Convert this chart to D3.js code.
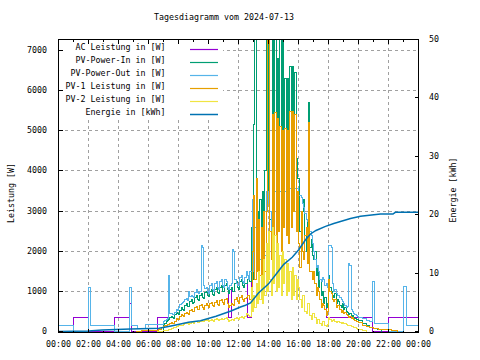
<!DOCTYPE html>
<html><head><meta charset="utf-8">
<script src="https://cdn.jsdelivr.net/npm/d3@7"></script>
<style>
body{margin:0;background:#fff}
svg{display:block}
text{font-family:"DejaVu Sans Mono",monospace;font-size:8.3px;fill:#000}
</style>
</head><body>
<svg id="c" width="480" height="360"></svg>
<script>
// ---------- texts / ticks ----------
const chartTitle = "Tagesdiagramm vom 2024-07-13";
const yLabel = "Leistung [W]";
const y2Label = "Energie [kWh]";
const xTickMinutes = [0,120,240,360,480,600,720,840,960,1080,1200,1320,1440];
const xTickLabels = ["00:00","02:00","04:00","06:00","08:00","10:00","12:00","14:00","16:00","18:00","20:00","22:00","00:00"];
const yTicks = [0,1000,2000,3000,4000,5000,6000,7000];
const y2Ticks = [0,10,20,30,40,50];
const seriesNames = ["AC Leistung in [W]","PV-Power-In in [W]","PV-Power-Out in [W]","PV-1 Leistung in [W]","PV-2 Leistung in [W]","Energie in [kWh]"];
const seriesColors = ["#9400d3","#009e73","#56b4e9","#e69f00","#f0e442","#0072b2"];

// ---------- daytime sample times, minutes after midnight (07:00 .. 20:00, 5 min) ----------
const dayMinutes = [
  420,425,430,435,440,445,450,455,460,465,470,475,
  480,485,490,495,500,505,510,515,520,525,530,535,
  540,545,550,555,560,565,570,575,580,585,590,595,
  600,605,610,615,620,625,630,635,640,645,650,655,
  660,665,670,675,680,685,690,695,700,705,710,715,
  720,725,730,735,740,745,750,755,760,765,770,775,
  780,785,790,795,800,805,810,815,820,825,830,835,
  840,845,850,855,860,865,870,875,880,885,890,895,
  900,905,910,915,920,925,930,935,940,945,950,955,
  960,965,970,975,980,985,990,995,1000,1005,1010,1015,
  1020,1025,1030,1035,1040,1045,1050,1055,1060,1065,1070,1075,
  1080,1085,1090,1095,1100,1105,1110,1115,1120,1125,1130,1135,
  1140,1145,1150,1155,1160,1165,1170,1175,1180,1185,1190,1195,
  1200];

// ---------- PV-Power-In [W] (green) ----------
const pvInPreMin = [410];
const pvInPreW = [0];
const pvInDayW = [
  150,200,250,280,300,340,380,350,330,420,480,450,
  420,520,600,540,520,640,700,620,620,740,800,700,
  720,850,900,800,780,900,950,850,830,960,1000,900,
  880,1000,1050,920,900,1050,1100,980,950,1100,1150,1000,
  1000,1150,1200,1050,950,1050,1100,1000,1000,1200,1250,1100,
  1050,1250,1300,1150,1100,1200,1200,1300,1400,1250,2600,1300,
  5150,7300,2200,3000,1800,3300,2000,3500,2400,4000,7300,3500,
  7300,2800,2500,7300,3500,7300,4000,6800,3000,7300,3800,7300,
  3200,6300,3500,6300,3000,6600,3600,6600,3300,6450,4300,3800,
  3800,2500,2200,3000,3300,2400,2000,2800,5700,2100,2300,1900,
  1800,2000,1400,1600,1100,1300,900,1000,700,850,600,700,
  1400,1100,1000,900,850,950,700,800,750,650,600,700,
  550,600,500,480,420,450,380,400,350,330,300,290,
  280];
const pvInPostMin = [1215,1230,1245,1260,1275,1290];
const pvInPostW = [200,160,110,80,60,0];

// ---------- PV-Power-Out [W] (light blue) ----------
const pvOutPreMin = [0,60,120,127,224,285,292,315,348];
const pvOutPreW = [150,0,1100,150,0,1100,150,80,180];
const pvOutDayW = [
  250,280,300,320,1400,450,450,430,420,480,550,520,
  600,680,700,720,750,800,820,780,1000,880,900,860,
  850,980,1050,960,950,1000,2150,2100,1150,1080,1100,1000,
  950,1150,1200,1050,1000,1200,1250,1100,1050,1250,1300,1150,
  1100,1300,1250,1100,1050,1150,1200,2050,2000,1300,1200,1150,
  1150,1350,1400,1250,1200,1350,1500,1400,1300,1500,1500,3300,
  1500,2600,3000,1600,2200,1800,2600,1400,2500,1900,3500,3200,
  3500,3000,2300,3500,3400,3500,3500,3500,3500,3500,3500,3500,
  3500,3500,3500,3500,3550,3560,3570,3570,3570,3570,3570,3570,
  3400,3380,3350,3200,3100,2950,2800,2750,2700,2500,2400,2200,
  2000,1800,1600,1650,1500,1300,1250,1350,1300,1150,1200,1100,
  2150,2150,2100,1200,1000,1050,950,900,900,850,800,750,
  700,650,600,620,1700,1650,550,500,450,420,400,370,
  350];
const pvOutPostMin = [1215,1230,1245,1255,1264,1280,1300,1321,1381,1392,1440];
const pvOutPostW = [320,280,250,1240,210,200,190,0,1130,150,150];

// ---------- PV-1 Leistung [W] (orange) ----------
const pv1PreMin = [307,330,360,390,400,410];
const pv1PreW = [10,20,15,30,60,90];
const pv1DayW = [
  120,140,150,170,180,200,220,210,200,260,330,310,
  300,380,420,400,380,450,480,440,430,520,560,500,
  500,600,620,560,540,640,680,600,560,660,700,640,
  600,700,720,640,620,720,760,680,650,760,800,720,
  680,800,820,700,600,650,700,680,650,800,850,750,
  700,850,900,800,750,820,850,900,900,800,1100,2000,
  3400,1300,3800,1500,2800,1400,2600,1200,3000,1500,3000,7300,
  7300,2500,1800,5400,2000,5450,2200,5300,2500,5100,2000,5000,
  2600,5050,2400,5000,2200,5470,2600,5470,3000,5400,2500,3500,
  2200,1600,3000,2000,1800,2400,2600,1700,5200,1500,1500,1300,
  1500,1200,900,1100,1000,800,600,700,650,550,400,500,
  1300,1000,950,800,750,800,600,650,650,550,480,520,
  450,480,420,400,350,380,320,340,300,280,250,240,
  220];
const pv1PostMin = [1215,1230,1245,1260,1280,1300,1330,1356];
const pv1PostW = [160,120,90,70,55,45,35,0];

// ---------- PV-2 Leistung [W] (yellow) ----------
const pv2PreMin = [390,400,410];
const pv2PreW = [0,5,10];
const pv2DayW = [
  20,25,30,35,40,60,80,85,90,110,120,130,
  140,150,150,160,170,190,200,190,180,210,230,220,
  210,240,260,230,220,250,270,250,240,280,300,270,
  250,280,300,270,260,300,320,290,280,310,330,300,
  290,320,340,300,250,280,300,290,270,330,350,320,
  300,360,380,340,320,380,450,420,400,380,1100,500,
  900,600,1200,700,1500,800,1400,700,1800,900,2200,1000,
  2500,1300,900,2600,1200,2400,1000,2200,1100,1900,900,2000,
  1200,1800,900,1700,1000,1500,800,1600,900,1400,800,1300,
  1100,800,600,900,900,500,450,700,700,400,300,450,
  450,350,200,300,300,200,150,250,250,150,130,180,
  350,300,250,280,300,260,220,250,260,230,200,220,
  200,190,180,160,150,140,130,120,110,90,70,60,
  50];
const pv2PostMin = [1215,1230];
const pv2PostW = [20,0];

// ---------- AC Leistung [W] (purple) ----------
const acNightMin = [0,60,120,224,284,290,394];
const acNightW = [0,350,0,350,700,0,350];
// 07:20 .. 17:45 on the day grid
const acDayW = [
  300,340,380,350,330,420,480,450,
  420,520,600,540,520,640,700,620,620,740,800,700,
  720,850,900,800,780,900,950,850,830,960,1000,900,
  880,1000,1050,920,900,1050,1100,980,950,1100,1150,1000,
  1000,1150,1200,1050,350,350,1100,1000,1000,1200,1250,1100,
  1050,1250,1300,1150,1100,1200,1200,350,350,350,2600,1300,
  5150,7300,2200,3000,1800,3300,2000,3500,2400,4000,7300,3500,
  7300,2800,2500,7300,3500,7300,4000,6800,3000,7300,3800,7300,
  3200,6300,3500,6300,3000,6600,3600,6600,3300,6450,4300,3800,
  3800,2500,2200,3000,3300,2400,2000,2800,5700,2100,2300,1900,
  1800,2000,1400,1600,1100,1300,900,1000,700,850];
const acEveMin = [1070,1255,1321,1440];
const acEveW = [350,0,350,350];

// ---------- Energie [kWh] ----------
const energyMin = [0,120,174,288,402,450,488,520,568,630,690,728,748,768,800,835,841,881,901,935,961,988,1008,1030,1068,1101,1168,1208,1288,1338,1347,1440];
const energyKWh = [0,0.1,0.25,0.43,0.55,0.95,1.28,1.57,1.85,2.6,3.5,4.2,4.5,4.9,6.6,7.95,8.2,10.4,11.5,12.7,14.0,15.7,16.7,17.3,18.0,18.5,19.35,19.74,20.1,20.1,20.4,20.4];

// ---------- build series ----------
function zip(mins, vals){ return mins.map((m,i)=>({m:m, v:vals[i]})); }
const acStart = dayMinutes.indexOf(440);
const acMin = acNightMin.concat(dayMinutes.slice(acStart, acStart + acDayW.length), acEveMin);
const acW = acNightW.concat(acDayW, acEveW);
const series = [
  zip(acMin, acW),
  zip(pvInPreMin.concat(dayMinutes, pvInPostMin), pvInPreW.concat(pvInDayW, pvInPostW)),
  zip(pvOutPreMin.concat(dayMinutes, pvOutPostMin), pvOutPreW.concat(pvOutDayW, pvOutPostW)),
  zip(pv1PreMin.concat(dayMinutes, pv1PostMin), pv1PreW.concat(pv1DayW, pv1PostW)),
  zip(pv2PreMin.concat(dayMinutes, pv2PostMin), pv2PreW.concat(pv2DayW, pv2PostW))
];
const energy = zip(energyMin, energyKWh);

// ---------- layout ----------
const svg = d3.select("#c");
const L = 58.5, R = 418.5, T = 39.5, B = 331.5, BB = 332.5;
const x = d3.scaleLinear().domain([0,1440]).range([L,R]);
const y = d3.scaleLinear().domain([0,7276]).range([B,T]);
const y2 = d3.scaleLinear().domain([0,50]).range([B,T]);
const crisp = v => Math.floor(v) + 0.5;

// title
svg.append("text").attr("x",224).attr("y",19.5).attr("text-anchor","middle").text(chartTitle);

// grid
const grid = svg.append("g").attr("stroke","#a0a0a0").attr("stroke-width",1).attr("stroke-dasharray","3,3").attr("shape-rendering","crispEdges");
xTickMinutes.slice(1,-1).forEach(m=>{
  grid.append("line").attr("x1",crisp(x(m))).attr("x2",crisp(x(m))).attr("y1",BB).attr("y2",T);
});
yTicks.slice(1).forEach(v=>{
  grid.append("line").attr("x1",L).attr("x2",R).attr("y1",crisp(y(v))).attr("y2",crisp(y(v)));
});

// opaque legend background
svg.append("rect").attr("x",59).attr("y",40).attr("width",164).attr("height",78).attr("fill","#fff");

// data
svg.append("clipPath").attr("id","pc").append("rect").attr("x",L).attr("y",T).attr("width",R-L).attr("height",BB-T);
const dg = svg.append("g").attr("clip-path","url(#pc)");
const stepLine = d3.line().x(d=>crisp(x(d.m))).y(d=>crisp(y(Math.min(d.v, 7276)))).curve(d3.curveStepAfter);
series.forEach((s,i)=>{
  dg.append("path").datum(s).attr("d",stepLine).attr("fill","none")
    .attr("stroke",seriesColors[i]).attr("stroke-width",1).attr("shape-rendering","crispEdges");
});
const eLine = d3.line().x(d=>x(d.m)).y(d=>y2(d.v));
dg.append("path").datum(energy).attr("d",eLine).attr("fill","none")
  .attr("stroke",seriesColors[5]).attr("stroke-width",1.5);

// border + ticks
const ax = svg.append("g").attr("stroke","#000").attr("stroke-width",1).attr("shape-rendering","crispEdges");
ax.append("rect").attr("x",L).attr("y",T).attr("width",R-L).attr("height",BB-T).attr("fill","none");
for(let m=0;m<=1440;m+=60){
  const len = (m % 120 === 0) ? 4 : 2;
  const xx = crisp(x(m));
  ax.append("line").attr("x1",xx).attr("x2",xx).attr("y1",BB).attr("y2",BB-len);
  ax.append("line").attr("x1",xx).attr("x2",xx).attr("y1",T).attr("y2",T+len);
}
yTicks.forEach(v=>{
  const yy = crisp(y(v));
  ax.append("line").attr("x1",L).attr("x2",L+4).attr("y1",yy).attr("y2",yy);
});
y2Ticks.forEach(v=>{
  const yy = crisp(y2(v));
  ax.append("line").attr("x1",R).attr("x2",R-4).attr("y1",yy).attr("y2",yy);
});

// tick labels
xTickMinutes.forEach((m,i)=>{
  svg.append("text").attr("x",x(m)).attr("y",347).attr("text-anchor","middle").text(xTickLabels[i]);
});
yTicks.forEach(v=>{
  svg.append("text").attr("x",47).attr("y",y(v)+2.5).attr("text-anchor","end").text(v);
});
y2Ticks.forEach(v=>{
  svg.append("text").attr("x",429).attr("y",y2(v)+2.5).attr("text-anchor","start").text(v);
});

// axis titles
svg.append("text").attr("transform","translate(14,193) rotate(-90)").attr("text-anchor","middle").text(yLabel);
svg.append("text").attr("transform","translate(455.5,190) rotate(-90)").attr("text-anchor","middle").text(y2Label);

// legend
seriesNames.forEach((n,i)=>{
  const ly = Math.floor(49 + i*13.06) + 0.5;
  svg.append("text").attr("x",165.5).attr("y",ly+0.5).attr("text-anchor","end").text(n);
  svg.append("line").attr("x1",190).attr("x2",218).attr("y1",ly).attr("y2",ly)
    .attr("stroke",seriesColors[i]).attr("stroke-width", i===5 ? 1.5 : 1.2);
});
</script>
</body></html>
